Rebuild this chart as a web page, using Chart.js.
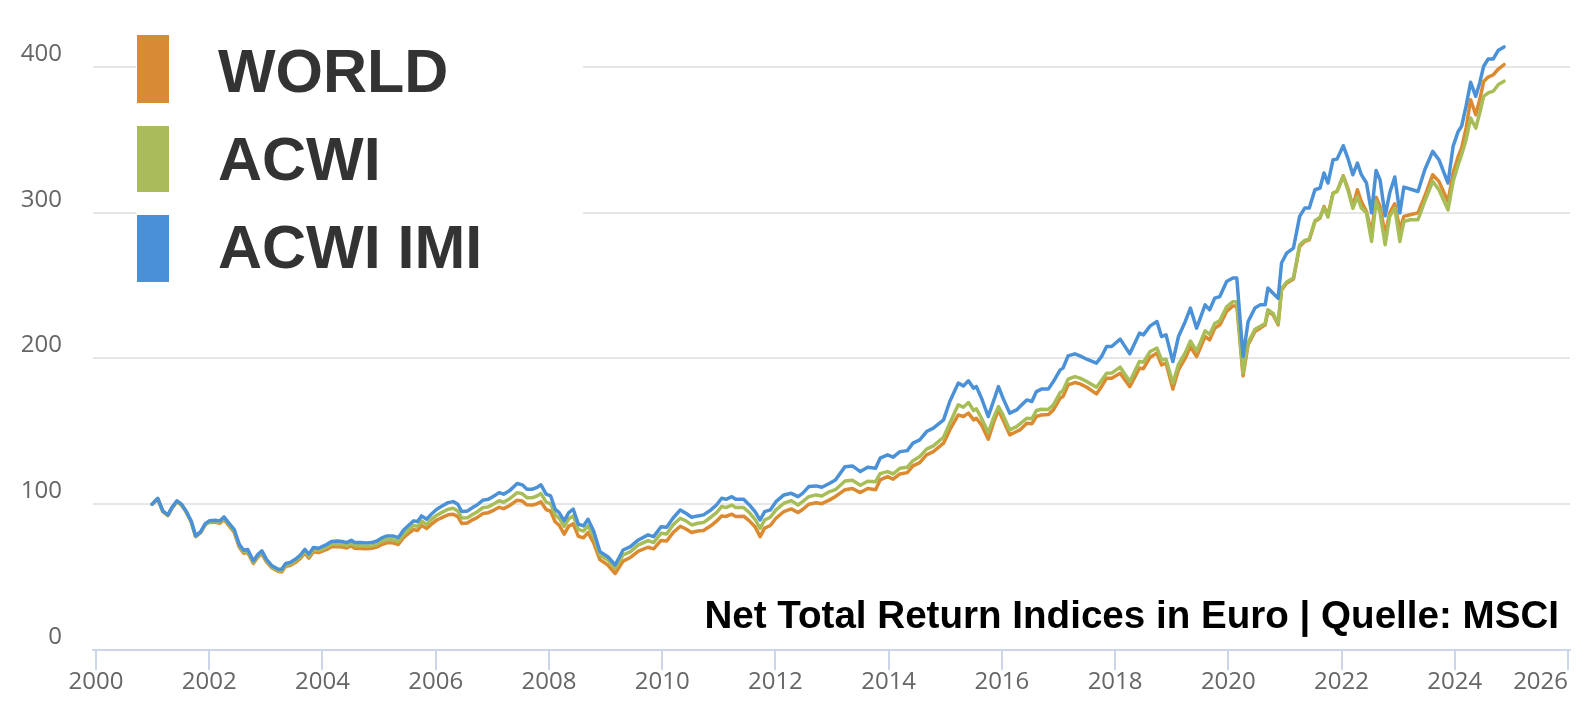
<!DOCTYPE html>
<html>
<head>
<meta charset="utf-8">
<title>MSCI WORLD / ACWI / ACWI IMI</title>
<script src="https://cdn.jsdelivr.net/npm/chart.js@4/dist/chart.umd.min.js"></script>
<style>
  html, body { margin: 0; padding: 0; background: #ffffff; }
  #wrap { position: relative; width: 1590px; height: 720px; }
</style>
</head>
<body>
<div id="wrap"><canvas id="chart"></canvas></div>
<script>
// ---- data ----
const dates = [
  2000.99,2001.09,2001.18,2001.27,2001.34,2001.43,2001.51,2001.59,2001.68,2001.76,2001.85,2001.93,
  2002.00,2002.10,2002.19,2002.26,2002.34,2002.44,2002.53,2002.61,2002.68,2002.78,2002.86,2002.93,
  2003.01,2003.11,2003.22,2003.28,2003.35,2003.43,2003.52,2003.61,2003.69,2003.76,2003.84,2003.93,
  2004.08,2004.16,2004.26,2004.35,2004.43,2004.51,2004.57,2004.67,2004.77,2004.87,2004.96,
  2005.04,2005.14,2005.24,2005.34,2005.43,2005.51,2005.61,2005.68,2005.75,2005.84,2005.92,
  2006.02,2006.12,2006.22,2006.31,2006.39,2006.46,2006.56,2006.65,2006.73,2006.83,2006.93,
  2007.03,2007.12,2007.20,2007.30,2007.44,2007.53,2007.61,2007.71,2007.78,2007.86,2007.95,
  2008.03,2008.11,2008.18,2008.27,2008.35,2008.43,2008.52,2008.61,2008.69,2008.79,2008.90,
  2009.04,2009.17,2009.31,2009.44,2009.58,2009.75,2009.85,2009.98,
  2010.08,2010.19,2010.32,2010.42,2010.52,2010.63,2010.73,2010.86,2010.96,
  2011.05,2011.13,2011.23,2011.30,2011.44,2011.54,2011.64,2011.73,2011.81,2011.91,
  2012.01,2012.15,2012.28,2012.40,2012.48,2012.59,2012.72,2012.82,2012.96,
  2013.06,2013.23,2013.36,2013.50,2013.63,2013.77,2013.85,2013.98,
  2014.08,2014.20,2014.33,2014.43,2014.55,2014.67,2014.79,2014.97,
  2015.08,2015.23,2015.32,2015.41,2015.50,2015.55,2015.64,2015.76,2015.85,2015.94,
  2016.02,2016.14,2016.26,2016.32,2016.44,2016.53,2016.61,2016.70,2016.82,2016.91,
  2017.03,2017.08,2017.17,2017.29,2017.38,2017.50,2017.67,2017.76,2017.85,2017.94,
  2018.09,2018.26,2018.43,2018.50,2018.62,2018.74,2018.82,2018.90,
  2019.02,2019.12,2019.24,2019.33,2019.44,2019.59,2019.67,2019.76,2019.85,2019.97,
  2020.08,2020.15,2020.26,2020.35,2020.47,2020.56,2020.65,2020.70,2020.79,2020.88,2020.94,
  2021.03,2021.15,2021.26,2021.35,2021.43,2021.53,2021.62,2021.69,2021.76,2021.85,2021.92,
  2022.03,2022.12,2022.20,2022.28,2022.35,2022.44,2022.53,2022.61,2022.68,2022.77,2022.85,2022.94,
  2023.03,2023.10,2023.21,2023.35,2023.47,2023.61,2023.72,2023.88,2023.97,
  2024.06,2024.12,2024.20,2024.28,2024.37,2024.44,2024.51,2024.59,2024.68,2024.77,2024.87
];

const acwiImi = [
  100,104.1,95.4,92.7,97.7,102.3,100,95.4,88.6,78.3,81.2,86.7,
  88.6,89.0,88.6,91.3,87.4,82.8,72.5,68.4,68.9,61.1,65.7,68.0,
  62.2,57.7,55.4,55.4,59.3,60.0,62.2,65.2,69.1,65.7,70.3,69.8,
  72.5,74.4,74.8,74.4,73.7,75.3,73.7,73.7,73.5,73.7,74.8,
  76.7,78.3,78.3,77.1,82.2,85.1,88.6,88.1,92.0,89.7,93.1,
  96.6,98.9,101.1,101.8,100.0,95.0,95.4,97.7,99.5,102.7,103.4,
  105.7,108.0,106.9,109.2,114.2,113.3,110.3,110.3,111.4,113.3,106.9,
  105.7,96.6,94.3,88.6,94.3,96.6,86.3,85.1,89.7,81.7,67.5,
  64.0,58.3,68.6,70.9,75.5,79.0,77.8,84.6,
  84.2,90.4,96.1,93.8,91.1,92.0,92.7,96.1,99.5,
  104.1,103.4,105.2,103.4,103.4,99.5,94.9,89.2,94.9,96.1,
  101.8,106.4,107.5,105.2,107.5,112.1,112.6,111.7,114.4,
  116.7,125.8,126.3,122.4,125.4,124.7,131.6,133.9,
  132.3,136.1,136.8,141.9,144.2,149.9,152.2,157.9,
  170.5,183.1,181.2,184.7,179.6,180.7,172.8,160.2,170.5,180.7,
  172.8,162.5,164.7,167.0,171.6,170.5,177.3,179.0,179.0,184.2,
  192.2,193.4,201.8,203.2,201.8,199.5,196.8,201.3,208.2,208.2,
  213.3,203.2,217.4,216.2,222.4,225.4,215.1,216.2,
  197.9,215.1,225.4,234.6,220.8,236.8,233.4,241.4,242.5,252.8,
  255.2,255.2,201.3,225.4,234.6,236.8,236.8,248.3,244.8,241.4,265.5,
  272.3,275.7,297.5,303.2,303.2,315.8,317.0,327.3,320.4,336.4,336.8,
  346.0,336.4,326.1,334.1,326.1,320.4,299.9,329.0,322.6,297.9,313.5,324.5,
  299.9,317.6,316.3,314.6,329.5,342.1,336.4,320.4,345.5,
  355.8,359.3,373.4,389.5,379.9,389.1,400.5,405.5,405.5,411.5,413.8
];

const acwi = [
  100,103.8,95.2,92.4,97.4,102.0,99.6,95.0,88.2,78.0,80.8,86.2,
  88.0,88.4,87.8,90.4,86.5,81.8,71.5,67.4,67.8,60.2,64.7,67.0,
  61.3,57.0,54.6,54.5,58.3,59.0,61.2,64.0,67.8,64.3,68.8,68.2,
  70.7,72.5,72.8,72.3,71.6,73.2,71.6,71.5,71.3,71.5,72.5,
  74.4,75.8,75.7,74.6,79.3,82.1,85.4,84.8,88.5,86.2,89.4,
  92.5,94.6,96.6,97.2,95.3,90.6,90.8,93.0,94.7,97.6,98.2,
  100.3,102.4,101.4,103.6,108.0,107.2,104.5,104.5,105.5,107.3,101.5,
  100.3,92.7,90.4,84.8,90.0,92.0,82.8,81.6,85.2,78.0,65.2,
  61.8,56.1,65.2,67.5,72.1,75.1,73.7,80.1,
  79.6,85.8,90.4,88.6,85.8,87.0,87.4,91.1,94.3,
  98.4,97.7,99.5,97.7,97.7,94.3,89.7,83.5,89.2,91.1,
  96.1,100.7,102.5,99.5,101.8,105.2,106.4,105.7,108.7,
  110.0,116.0,116.5,113.0,115.8,115.5,121.0,122.4,
  120.8,124.7,125.4,129.9,132.7,137.8,140.0,146.0,
  155.6,168.2,166.6,169.8,164.3,165.5,159.0,149.2,159.0,167.0,
  161.3,151.0,153.3,155.1,159.0,158.6,164.3,165.2,165.0,168.2,
  176.6,178.0,185.8,187.6,186.5,184.2,180.3,184.9,189.9,190.0,
  194.1,184.2,197.9,197.5,204.8,207.1,199.1,199.5,
  183.1,196.0,204.0,212.0,205.0,219.0,216.5,224.0,226.0,235.5,
  239.0,239.0,190.0,211.0,220.0,222.0,224.0,233.5,231.0,224.0,248.0,
  252.5,255.2,278.0,281.0,282.0,294.5,297.0,303.5,297.0,313.5,314.6,
  325.0,314.6,303.0,311.0,303.2,299.9,280.3,307.9,299.9,278.0,297.5,303.2,
  280.3,294.0,295.2,295.2,307.9,321.5,315.8,302.0,321.5,
  333.0,339.8,350.1,365.0,358.1,368.4,379.9,382.2,383.4,388.0,390.3
];

const world = [
  100,103.6,95.0,92.2,97.2,101.8,99.4,94.8,88.0,77.8,80.5,86.0,
  87.6,87.8,87.0,89.6,85.6,80.8,70.6,66.4,66.8,59.4,63.8,66.0,
  60.5,56.2,53.8,53.6,57.4,58.0,60.0,62.8,66.4,63.0,67.4,66.8,
  69.0,70.8,71.0,70.6,70.0,71.5,69.8,69.7,69.5,69.8,70.6,
  72.3,73.6,73.5,72.4,77.0,79.6,82.6,82.0,85.5,83.3,86.2,
  89.2,91.0,92.8,93.2,91.5,86.8,87.2,89.3,90.8,93.6,94.2,
  96.0,97.9,97.0,99.0,102.8,102.2,99.6,99.5,100.2,101.6,96.4,
  95.2,88.0,85.6,79.5,85.0,86.5,78.0,77.0,80.5,73.5,62.0,
  58.3,52.5,61.0,63.5,67.8,70.5,69.4,75.2,
  74.8,80.4,84.9,83.0,80.6,81.6,82.0,85.2,88.4,
  92.0,91.6,93.2,91.6,91.8,88.6,84.6,77.8,83.6,85.4,
  90.4,95.0,96.8,94.3,96.4,100.0,101.0,100.4,103.0,
  105.3,110.0,110.8,108.0,110.8,110.0,116.7,119.0,
  117.2,120.8,121.7,126.3,128.6,133.9,136.1,141.9,
  151.0,161.3,160.2,162.5,157.9,159.0,154.5,144.6,155.6,164.7,
  157.9,147.6,149.9,151.0,155.6,155.2,160.2,161.3,161.5,164.7,
  172.8,173.9,181.9,183.5,182.6,180.3,175.7,180.7,186.5,186.5,
  189.9,180.7,193.4,193.0,200.9,203.7,195.6,196.8,
  179.0,192.2,200.2,208.2,201.3,215.1,212.8,220.8,223.1,232.2,
  236.1,236.1,188.1,209.4,218.5,220.8,223.1,232.2,230.0,223.1,247.1,
  251.7,254.5,276.9,280.3,281.4,294.0,296.4,304.3,298.6,313.5,314.6,
  325.4,315.8,304.3,315.8,307.7,300.9,286.0,310.7,304.3,284.9,299.9,306.2,
  288.3,297.5,298.6,299.9,311.3,326.1,321.5,307.7,327.3,
  338.6,344.4,358.1,377.5,367.2,377.5,390.1,393.1,394.7,398.6,401.6
];

const seriesNames = ['WORLD', 'ACWI', 'ACWI IMI'];
const xTickValues = [2000,2002,2004,2006,2008,2010,2012,2014,2016,2018,2020,2022,2024,2026];
const yTickValues = [0,100,200,300,400];
const noteText = 'Net Total Return Indices in Euro | Quelle: MSCI';

// ---- styles ----
const lineColors = ['#DC8A30', '#A7BE58', '#4A91D8'];
const boxColors  = ['#D98A34', '#AABB5C', '#4A90D6'];
const X_MIN = 1999.947, X_MAX = 2026.035;

function toPoints(vals) { return dates.map((d, i) => ({ x: d, y: vals[i] })); }

const overlayPlugin = {
  id: 'overlay',
  afterDraw(chart) {
    const ctx = chart.ctx;
    ctx.save();
    // legend panel (covers the gridlines like the pasted legend image)
    ctx.fillStyle = '#ffffff';
    ctx.fillRect(136, 22, 447, 272);
    const boxTops = [35, 126, 215];
    const boxH = [68, 66, 67];
    const baselines = [92, 180, 268];
    ctx.font = 'bold 61px "Liberation Sans", Arial, sans-serif';
    ctx.textAlign = 'left';
    ctx.textBaseline = 'alphabetic';
    for (let i = 0; i < seriesNames.length; i++) {
      ctx.fillStyle = boxColors[i];
      ctx.fillRect(137, boxTops[i], 32, boxH[i]);
      ctx.fillStyle = '#333333';
      ctx.fillText(seriesNames[i], 218, baselines[i]);
    }
    // source note
    ctx.font = 'bold 38.6px "Liberation Sans", Arial, sans-serif';
    ctx.fillStyle = '#000000';
    ctx.textAlign = 'right';
    ctx.fillText(noteText, 1559, 628);
    ctx.restore();
  }
};

const tickFont = { family: '"Open Sans", "DejaVu Sans", sans-serif', size: 24 };

new Chart(document.getElementById('chart'), {
  type: 'line',
  data: {
    datasets: [
      { label: seriesNames[0], data: toPoints(world),   borderColor: lineColors[0], order: 3 },
      { label: seriesNames[1], data: toPoints(acwi),    borderColor: lineColors[1], order: 2 },
      { label: seriesNames[2], data: toPoints(acwiImi), borderColor: lineColors[2], order: 1 }
    ]
  },
  options: {
    responsive: true,
    maintainAspectRatio: false,
    animation: false,
    events: [],
    layout: { padding: { top: 8.7, right: 20, left: 0, bottom: 0 } },
    elements: {
      line: { borderWidth: 3.5, tension: 0, borderJoinStyle: 'round', borderCapStyle: 'round', fill: false },
      point: { radius: 0, hoverRadius: 0 }
    },
    plugins: { legend: { display: false }, tooltip: { enabled: false } },
    scales: {
      x: {
        type: 'linear',
        min: X_MIN,
        max: X_MAX,
        // a blank first tick at the axis start lets 'inner' alignment justify only the last label
        afterBuildTicks: (s) => { s.ticks = [{ value: X_MIN }].concat(xTickValues.map(v => ({ value: v }))); },
        afterFit: (s) => { s.height = 70; s.paddingLeft = 0; s.paddingRight = 0; s.paddingTop = 0; s.paddingBottom = 0; },
        ticks: {
          callback: (v) => (v < 2000 ? '' : String(v)),
          font: tickFont,
          color: '#666666',
          padding: -2,
          align: 'inner',
          maxRotation: 0,
          autoSkip: false
        },
        grid: {
          drawOnChartArea: false, drawTicks: true, tickLength: 20, lineWidth: 2,
          color: (c) => (c.tick && c.tick.value < 2000 ? 'rgba(0,0,0,0)' : '#ccd6eb')
        },
        border: { display: true, color: '#ccd6eb', width: 2 }
      },
      y: {
        type: 'linear',
        min: 0,
        max: 440,
        afterBuildTicks: (s) => { s.ticks = yTickValues.map(v => ({ value: v })); },
        afterFit: (s) => { s.width = 93; s.paddingTop = 0; s.paddingBottom = 0; s.paddingLeft = 0; s.paddingRight = 0; },
        ticks: {
          callback: (v) => String(v),
          font: tickFont,
          color: '#666666',
          padding: 31,
          labelOffset: -13
        },
        grid: { color: '#e6e6e6', lineWidth: 2, drawTicks: false },
        border: { display: false }
      }
    }
  },
  plugins: [overlayPlugin]
});
</script>
</body>
</html>
